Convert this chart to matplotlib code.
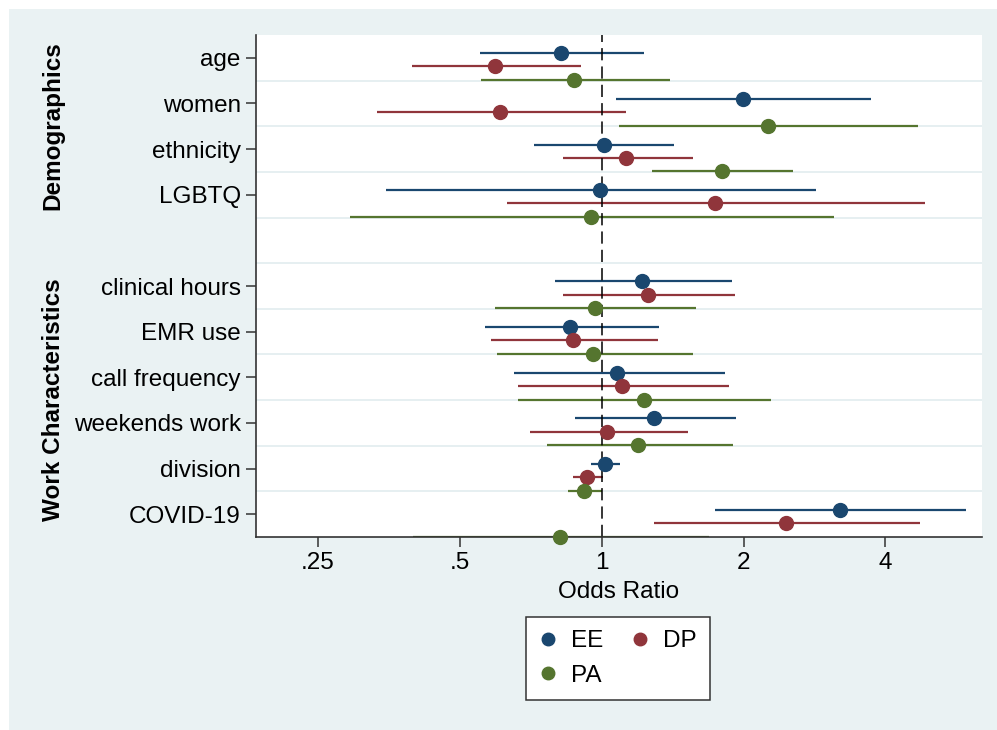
"""Coefficient plot of odds ratios (EE / DP / PA) by respondent characteristics."""

import matplotlib
import matplotlib.pyplot as plt
from matplotlib.lines import Line2D
from matplotlib.patches import Rectangle

# Use non-interactive backend
matplotlib.use("Agg")

# Row labels, grouped; an empty row is left between the groups
demographics = ["age", "women", "ethnicity", "LGBTQ"]
work_items = ["clinical hours", "EMR use", "call frequency", "weekends work",
              "division", "COVID-19"]
group_names = ["Demographics", "Work Characteristics"]

# Odds ratios and 95% CI bounds, same order as demographics + work_items
ee_or = [0.82, 1.99, 1.01, 0.99, 1.22, 0.855, 1.08, 1.29, 1.014, 3.20]
ee_lo = [0.553, 1.071, 0.718, 0.349, 0.797, 0.566, 0.652, 0.879, 0.947, 1.738]
ee_hi = [1.227, 3.72, 1.422, 2.853, 1.890, 1.323, 1.827, 1.925, 1.095, 5.93]

dp_or = [0.593, 0.609, 1.128, 1.738, 1.255, 0.868, 1.103, 1.027, 0.930, 2.46]
dp_lo = [0.395, 0.333, 0.828, 0.629, 0.828, 0.582, 0.666, 0.705, 0.870, 1.293]
dp_hi = [0.903, 1.128, 1.561, 4.85, 1.916, 1.314, 1.860, 1.523, 1.009, 4.73]

pa_or = [0.874, 2.258, 1.801, 0.947, 0.966, 0.957, 1.227, 1.194, 0.917, 0.815]
pa_lo = [0.556, 1.090, 1.281, 0.293, 0.595, 0.601, 0.666, 0.766, 0.847, 0.398]
pa_hi = [1.394, 4.70, 2.546, 3.11, 1.583, 1.561, 2.283, 1.899, 1.004, 1.69]

x_ticks = [0.25, 0.5, 1, 2, 4]
x_tick_labels = [".25", ".5", "1", "2", "4"]

# Stata s2color palette
COLORS = {"EE": "#1a476f", "DP": "#90353b", "PA": "#55752f"}
BACKGROUND = "#eaf2f3"
GRID = "#e6eff1"
FONT = ["Liberation Sans", "DejaVu Sans"]
FS = 17.5

plt.rcParams["font.family"] = FONT

W, H = 997, 730
fig = plt.figure(figsize=(W / 100, H / 100), dpi=100)
fig.patch.set_facecolor("white")
fig.patches.append(Rectangle((9 / W, 0), 1 - 9 / W, 1 - 9 / H,
                             transform=fig.transFigure, facecolor=BACKGROUND,
                             edgecolor="none", zorder=-10))

# Axes box in pixel terms: x 256..982, y 35..537
ax = fig.add_axes([256 / W, 1 - 537 / H, (982 - 256) / W, (537 - 35) / H])
ax.set_facecolor("white")

labels = demographics + work_items
rows = list(range(len(demographics))) + \
    [len(demographics) + 1 + i for i in range(len(work_items))]

series = [
    ("EE", ee_or, ee_lo, ee_hi, -0.10),
    ("DP", dp_or, dp_lo, dp_hi, 0.19),
    ("PA", pa_or, pa_lo, pa_hi, 0.49),
]

for name, est, lo, hi, offset in series:
    ys = [r + offset for r in rows]
    ax.hlines(ys, lo, hi, color=COLORS[name], linewidth=1.6, zorder=2)
    ax.plot(est, ys, "o", color=COLORS[name], markersize=10,
            linestyle="none", zorder=4, clip_on=False)

# Reference line at OR = 1
ax.axvline(1, color="black", linewidth=1.1, linestyle=(0, (8, 4)), zorder=3)

# Light separators between rows
n_rows = rows[-1] + 1
for k in range(n_rows - 1):
    ax.axhline(k + 0.5, color=GRID, linewidth=1.4, zorder=1)

ax.set_xscale("log")
ax.set_xlim(0.1848, 6.41)
ax.set_ylim(n_rows - 0.5, -0.5)
ax.set_xticks(x_ticks)
ax.set_xticklabels(x_tick_labels)
ax.xaxis.set_minor_locator(matplotlib.ticker.NullLocator())
ax.set_yticks(rows)
ax.set_yticklabels(labels)

ax.tick_params(axis="both", labelsize=FS, colors="#333333", labelcolor="black",
               length=7, width=1.1)
ax.tick_params(axis="x", pad=4)
ax.tick_params(axis="y", pad=4)

for side in ["top", "right"]:
    ax.spines[side].set_visible(False)
for side in ["left", "bottom"]:
    ax.spines[side].set_color("#333333")
    ax.spines[side].set_linewidth(1.2)
    ax.spines[side].set_zorder(3.5)

# Axis title and group titles placed in figure pixels
fig.text(619 / W, 1 - 592 / H, "Odds Ratio", ha="center", va="center",
         fontsize=FS)
fig.text(53 / W, 1 - 126 / H, group_names[0], rotation=90, ha="center",
         va="center", fontsize=FS, fontweight="bold")
fig.text(53 / W, 1 - 400 / H, group_names[1], rotation=90, ha="center",
         va="center", fontsize=FS, fontweight="bold")

# Legend: EE, DP on the first row, PA below
handles = [Line2D([], [], marker="o", linestyle="none", markersize=9,
                  color=COLORS[n]) for n in ["EE", "PA", "DP"]]
leg = fig.legend(handles, ["EE", "PA", "DP"], ncol=2, loc="center",
                 bbox_to_anchor=(618 / W, 1 - 658.5 / H), fontsize=FS,
                 frameon=True, fancybox=False, edgecolor="#333333",
                 framealpha=1, borderpad=0.55, labelspacing=0.5,
                 handlelength=0.7, handletextpad=0.6, columnspacing=1.15)
leg.get_frame().set_linewidth(1.1)

fig.savefig("out.png", dpi=100, facecolor=fig.get_facecolor())
plt.close(fig)
